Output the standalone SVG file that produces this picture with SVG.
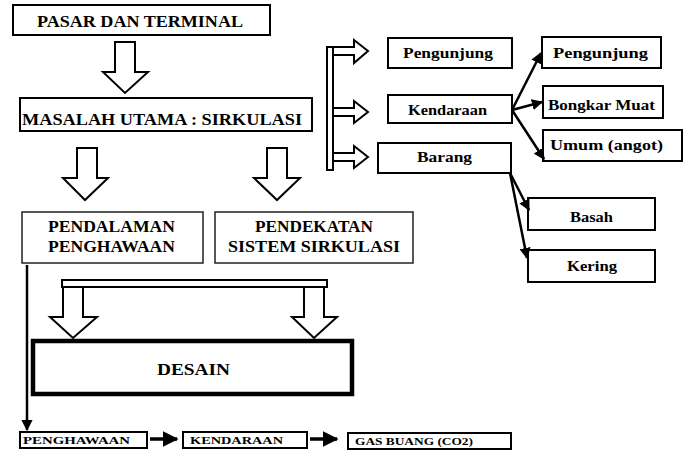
<svg xmlns="http://www.w3.org/2000/svg" width="688" height="459" viewBox="0 0 688 459" font-family="Liberation Serif, serif">
<style>
  .box{fill:#fff;stroke:#000;stroke-width:2}
  .thin{fill:#fff;stroke:#222;stroke-width:1.5}
  .hollow{fill:#fff;stroke:#000;stroke-width:2;stroke-linejoin:miter}
  text{font-weight:bold;fill:#000}
  .line{stroke:#000;stroke-width:2.5;fill:none}
</style>
<defs>
  <marker id="ah" viewBox="0 0 10 10" refX="9" refY="5" markerWidth="4.5" markerHeight="4.5" orient="auto" markerUnits="strokeWidth">
    <path d="M0,0 L10,5 L0,10 z" fill="#000"/>
  </marker>
</defs>
<rect width="688" height="459" fill="#fff"/>

<g id="pasar">
  <rect class="box" x="13" y="5" width="257" height="30"/>
  <text x="37" y="27" font-size="17" textLength="206" lengthAdjust="spacingAndGlyphs">PASAR DAN TERMINAL</text>
</g>
<g id="masalah">
  <rect class="box" x="20" y="98" width="292" height="33"/>
  <text x="22" y="125" font-size="17" textLength="280" lengthAdjust="spacingAndGlyphs">MASALAH UTAMA : SIRKULASI</text>
</g>
<g id="pendalaman">
  <rect class="thin" x="22" y="212" width="181" height="51"/>
  <text x="48" y="232" font-size="16" textLength="127" lengthAdjust="spacingAndGlyphs">PENDALAMAN</text>
  <text x="48" y="252" font-size="16" textLength="127" lengthAdjust="spacingAndGlyphs">PENGHAWAAN</text>
</g>
<g id="pendekatan">
  <rect class="thin" x="215" y="212" width="198" height="51"/>
  <text x="255" y="232" font-size="16" textLength="118" lengthAdjust="spacingAndGlyphs">PENDEKATAN</text>
  <text x="228" y="252" font-size="16" textLength="172" lengthAdjust="spacingAndGlyphs">SISTEM SIRKULASI</text>
</g>
<g id="desain">
  <rect x="33" y="341" width="319" height="53" fill="#fff" stroke="#000" stroke-width="4.5"/>
  <text x="157" y="375" font-size="17" textLength="73" lengthAdjust="spacingAndGlyphs">DESAIN</text>
</g>
<g id="pengunjung1">
  <rect class="box" x="388" y="38" width="124" height="30"/>
  <text x="403" y="58" font-size="14" textLength="90" lengthAdjust="spacingAndGlyphs">Pengunjung</text>
</g>
<g id="kendaraan1">
  <rect class="box" x="388" y="95" width="124" height="28"/>
  <text x="408" y="115" font-size="14" textLength="79" lengthAdjust="spacingAndGlyphs">Kendaraan</text>
</g>
<g id="barang">
  <rect class="box" x="378" y="143" width="133" height="30"/>
  <text x="417" y="162" font-size="14" textLength="55" lengthAdjust="spacingAndGlyphs">Barang</text>
</g>
<g id="pengunjung2">
  <rect class="box" x="542" y="37" width="119" height="31"/>
  <text x="553" y="58" font-size="14" textLength="95" lengthAdjust="spacingAndGlyphs">Pengunjung</text>
</g>
<g id="bongkar">
  <rect class="box" x="543" y="86" width="120" height="32"/>
  <text x="548" y="110" font-size="14" textLength="107" lengthAdjust="spacingAndGlyphs">Bongkar Muat</text>
</g>
<g id="umum">
  <rect class="box" x="543" y="130" width="139" height="31"/>
  <text x="550" y="150" font-size="14" textLength="113" lengthAdjust="spacingAndGlyphs">Umum (angot)</text>
</g>
<g id="basah">
  <rect class="box" x="528" y="198" width="127" height="32"/>
  <text x="570" y="222" font-size="14" textLength="43" lengthAdjust="spacingAndGlyphs">Basah</text>
</g>
<g id="kering">
  <rect class="box" x="528" y="250" width="127" height="32"/>
  <text x="567" y="271" font-size="14" textLength="50" lengthAdjust="spacingAndGlyphs">Kering</text>
</g>
<g id="penghawaan2">
  <rect class="box" x="20" y="432" width="127" height="16"/>
  <text x="23" y="444" font-size="10" textLength="107" lengthAdjust="spacingAndGlyphs">PENGHAWAAN</text>
</g>
<g id="kendaraan2">
  <rect class="box" x="183" y="432" width="124" height="16"/>
  <text x="190" y="444" font-size="10" textLength="93" lengthAdjust="spacingAndGlyphs">KENDARAAN</text>
</g>
<g id="gasbuang">
  <rect class="box" x="348" y="433" width="163" height="16"/>
  <text x="355" y="445" font-size="10" textLength="118" lengthAdjust="spacingAndGlyphs">GAS BUANG (CO2)</text>
</g>

<g id="connectors">
  <polygon class="hollow" points="115,42 135,42 135,72 148,72 125,93 103,72 115,72"/>
  <polygon class="hollow" points="77,148 97,148 97,178 108,178 85,200 63,178 77,178"/>
  <polygon class="hollow" points="267,148 287,148 287,178 300,178 277,200 254,178 267,178"/>
  <rect class="hollow" x="62" y="280" width="265" height="7"/>
  <polygon class="hollow" points="63,287 83,287 83,317 97,317 73,338 50,317 63,317"/>
  <polygon class="hollow" points="304,287 324,287 324,317 337,317 314,338 292,317 304,317"/>
  <rect class="hollow" x="327" y="47" width="6" height="123"/>
  <polygon class="hollow" points="333,47 354,47 354,40 368,51 354,63 354,55 333,55"/>
  <polygon class="hollow" points="333,108 354,108 354,101 368,112 354,123 354,116 333,116"/>
  <polygon class="hollow" points="333,153 354,153 354,146 368,157 354,168 354,161 333,161"/>
  <line class="line" x1="512" y1="110" x2="541" y2="53" marker-end="url(#ah)"/>
  <line class="line" x1="512" y1="110" x2="542" y2="102" marker-end="url(#ah)"/>
  <line class="line" x1="512" y1="110" x2="544" y2="159" marker-end="url(#ah)"/>
  <line class="line" x1="510" y1="173" x2="529" y2="210" marker-end="url(#ah)"/>
  <line class="line" x1="510" y1="173" x2="527" y2="258" marker-end="url(#ah)"/>
  <line x1="27" y1="265" x2="27" y2="430" stroke="#000" stroke-width="2.5" marker-end="url(#ah)"/>
  <line x1="150" y1="439" x2="177" y2="439" stroke="#000" stroke-width="3.5" marker-end="url(#ah)"/>
  <line x1="310" y1="439" x2="337" y2="439" stroke="#000" stroke-width="3.5" marker-end="url(#ah)"/>
</g>
</svg>
